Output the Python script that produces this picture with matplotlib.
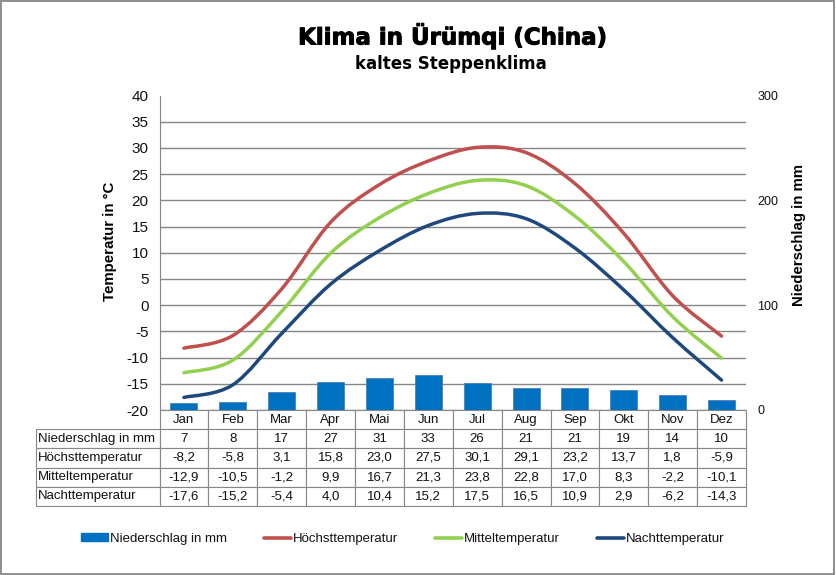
# Klimadiagramm Ürümqi: Temperaturkurven, Niederschlagsbalken und Datentabelle
import matplotlib
matplotlib.use("Agg")
import matplotlib.patheffects as pe
import matplotlib.pyplot as plt
import numpy as np
from matplotlib.lines import Line2D
from matplotlib.patches import Patch, PathPatch
from matplotlib.path import Path

plt.rcParams["font.family"] = ["Liberation Sans", "DejaVu Sans"]
plt.rcParams["axes.unicode_minus"] = False

months = ["Jan", "Feb", "Mar", "Apr", "Mai", "Jun", "Jul", "Aug", "Sep", "Okt", "Nov", "Dez"]
rain = [7, 8, 17, 27, 31, 33, 26, 21, 21, 19, 14, 10]
t_high = [-8.2, -5.8, 3.1, 15.8, 23.0, 27.5, 30.1, 29.1, 23.2, 13.7, 1.8, -5.9]
t_mean = [-12.9, -10.5, -1.2, 9.9, 16.7, 21.3, 23.8, 22.8, 17.0, 8.3, -2.2, -10.1]
t_night = [-17.6, -15.2, -5.4, 4.0, 10.4, 15.2, 17.5, 16.5, 10.9, 2.9, -6.2, -14.3]

GREY = "#868686"
BAR = "#0070C0"
RED = "#C0504D"
GREEN = "#92D050"
NAVY = "#1F497D"

W, H = 836, 575
fig = plt.figure(figsize=(W / 100, H / 100), dpi=100)

# Rahmen um das ganze Bild
fig.add_artist(plt.Rectangle((0.5 / W, 1.5 / H), (W - 3) / W, (H - 2.5) / H, fill=False,
                             edgecolor=GREY, linewidth=1.3, transform=fig.transFigure))


# Pixelposition im Bild -> Figure-Koordinaten
def fx(x):
    return x / W


def fy(y):
    return 1 - y / H


left, right, top, bottom = 159.5, 746, 95.5, 410
ax = fig.add_axes([fx(left), fy(bottom), fx(right - left), (bottom - top) / H])
ax2 = ax.twinx()

x = np.arange(12)
ax.set_xlim(-0.5, 11.5)
ax.set_ylim(-20, 40)
ax.set_yticks(np.arange(-20, 41, 5))
ax.set_xticks([])
ax.tick_params(axis="y", length=0, pad=8, labelsize=11, labelcolor="#111111")
ax.grid(axis="y", color=GREY, linewidth=1)
ax.set_axisbelow(True)
for name in ["top", "right", "bottom"]:
    ax.spines[name].set_visible(False)
ax.spines["left"].set_color(GREY)
ax.yaxis.get_gridlines()[-1].set_visible(False)

ax2.set_ylim(0, 300)
ax2.set_yticks([0, 100, 200, 300])
ax2.tick_params(axis="y", length=0, pad=8, labelsize=9, labelcolor="#111111")
for spine in ax2.spines.values():
    spine.set_visible(False)
ax2.bar(x, rain, width=0.55, color=BAR, edgecolor="#4F81BD", linewidth=0.6)


# geglättete Linie wie in Excel (Bezier durch die Monatswerte)
def smooth_line(values, color):
    p = np.column_stack([x, values])
    verts = [p[0]]
    codes = [Path.MOVETO]
    for i in range(len(p) - 1):
        before = p[max(i - 1, 0)]
        after = p[min(i + 2, len(p) - 1)]
        verts += [p[i] + (p[i + 1] - before) / 6, p[i + 1] - (after - p[i]) / 6, p[i + 1]]
        codes += [Path.CURVE4, Path.CURVE4, Path.CURVE4]
    ax.add_patch(PathPatch(Path(verts, codes), fill=False, edgecolor=color, linewidth=2.5,
                           capstyle="round", zorder=3))


smooth_line(t_high, RED)
smooth_line(t_mean, GREEN)
smooth_line(t_night, NAVY)


def de(values):
    return [f"{v:.1f}".replace(".", ",") for v in values]


rows = [
    [""] + months,
    ["Niederschlag in mm"] + [str(v) for v in rain],
    ["Höchsttemperatur"] + de(t_high),
    ["Mitteltemperatur"] + de(t_mean),
    ["Nachttemperatur"] + de(t_night),
]

# Tabelle unter der Achse, erste Spalte links neben dem Diagramm
tab_left, tab_bottom = 35.5, 506
ax_w, ax_h = right - left, bottom - top
tab = ax.table(cellText=rows, cellLoc="center",
               colWidths=[left - tab_left] + [ax_w / 12] * 12,
               bbox=[(tab_left - left) / ax_w, (bottom - tab_bottom) / ax_h,
                     (right - tab_left) / ax_w, (tab_bottom - bottom) / ax_h])
tab.auto_set_font_size(False)
tab.set_fontsize(9.5)
for (r, c), cell in tab.get_celld().items():
    cell.set_edgecolor(GREY)
    cell.set_linewidth(0.8)
    cell.get_text().set_color("#111111")
    if c == 0:
        cell.PAD = 0.02
        cell.get_text().set_ha("left")
tab[0, 0].visible_edges = ""

# Überschrift etwas fetter als das normale Bold
heavy = [pe.withStroke(linewidth=0.7, foreground="black")]
fig.text(fx(452), fy(36), "Klima in Ürümqi (China)", fontsize=16.5, fontweight="bold",
         family="DejaVu Sans", ha="center", va="center", color="black", path_effects=heavy)
fig.text(fx(451), fy(64), "kaltes Steppenklima", fontsize=12, fontweight="bold",
         family="DejaVu Sans", ha="center", va="center", color="black")
fig.text(fx(110), fy(241), "Temperatur in °C", fontsize=10.8, fontweight="bold",
         rotation=90, ha="center", va="center", color="black")
fig.text(fx(799), fy(235), "Niederschlag in mm", fontsize=10.8, fontweight="bold",
         rotation=90, ha="center", va="center", color="black")

handles = [
    Patch(facecolor=BAR, edgecolor=BAR),
    Line2D([], [], color=RED, linewidth=2.6, solid_capstyle="round"),
    Line2D([], [], color=GREEN, linewidth=2.6, solid_capstyle="round"),
    Line2D([], [], color=NAVY, linewidth=2.6, solid_capstyle="round"),
]
labels = ["Niederschlag in mm", "Höchsttemperatur", "Mitteltemperatur", "Nachttemperatur"]
fig.legend(handles, labels, loc="center", bbox_to_anchor=(fx(403), fy(539)), ncol=4,
           frameon=False, fontsize=9.5, handlelength=2.0, handleheight=0.55,
           handletextpad=0.2, columnspacing=2.8, labelcolor="#111111")

fig.savefig("out.png", dpi=100)
